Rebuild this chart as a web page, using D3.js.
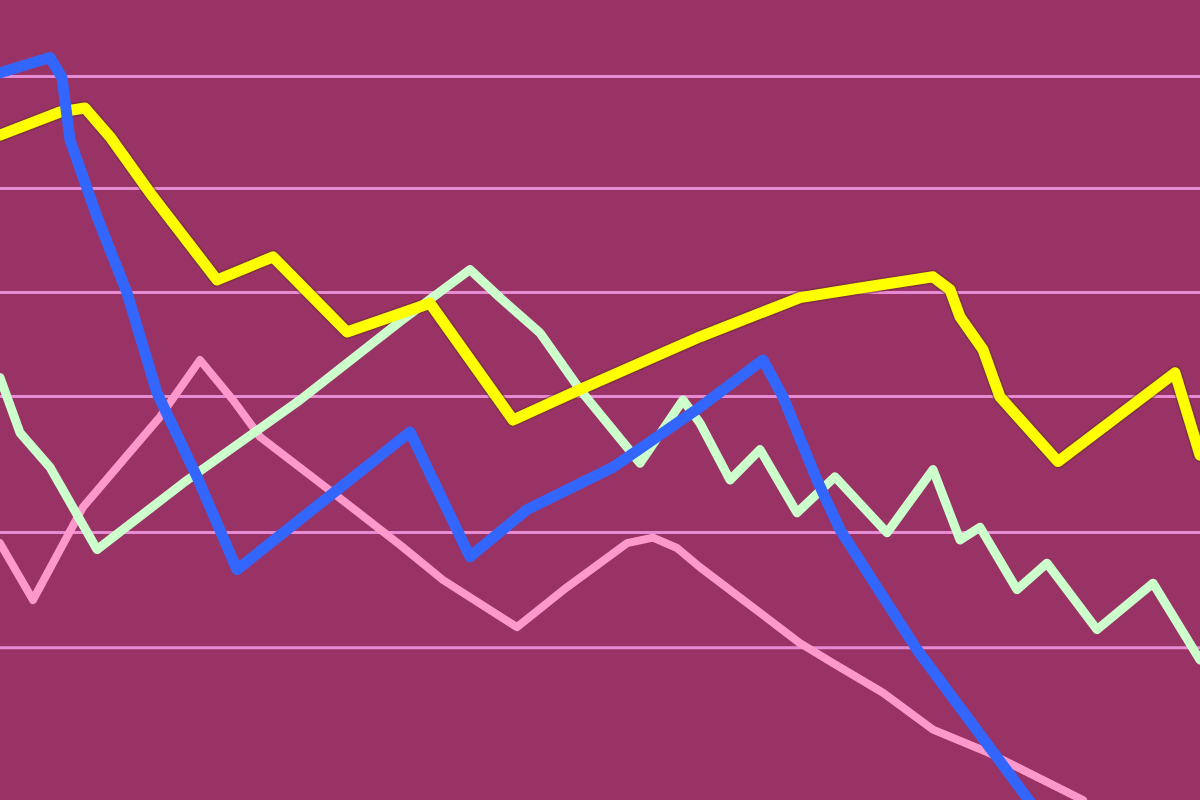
<!DOCTYPE html>
<html>
<head>
<meta charset="utf-8">
<script src="https://cdn.jsdelivr.net/npm/d3@7"></script>
<style>
  html, body { margin: 0; padding: 0; background: #993366; }
  svg { display: block; }
</style>
</head>
<body>
<svg id="chart" width="1200" height="800"></svg>
<script>
// Horizontal reference lines (value units)
const gridValues = [90.5, 76.5, 63.5, 50.5, 33.5, 19.1];

// Series: x positions and values
const blueX = [0, 5, 6.2, 7, 9.7, 12.7, 15.7, 19.7, 23.7, 41, 47, 52.7, 61.3, 70, 76.3, 78.3, 81.7, 84, 91.7, 104];
const blueY = [90.9, 92.8, 90.3, 82.5, 72.9, 63.4, 50.9, 40.4, 28.8, 46, 30.4, 36.3, 41.6, 49.1, 55, 50.4, 40, 33.8, 18.8, -1.9];

const yellowX = [0, 6, 8.5, 11, 15, 21.7, 27.3, 34.7, 43, 51.3, 58, 70, 80, 86, 93.3, 95, 96, 98.3, 99.3, 100, 105.8, 117.5, 120];
const yellowY = [83.1, 86, 86.5, 82.9, 75.9, 65, 67.9, 58.5, 62.1, 47.5, 51.3, 57.9, 62.8, 64, 65.4, 63.8, 60.4, 56.3, 52.8, 50.4, 42.3, 53.4, 43.1];

const greenX = [0, 2, 5, 9.7, 18.3, 30, 40, 47, 50, 54, 58, 62.7, 64, 68.3, 70, 73, 76, 79.7, 83.5, 88.7, 93.3, 96, 98, 101.7, 104.7, 109.7, 115.3, 120];
const greenY = [52.8, 45.9, 41.6, 31.3, 39.6, 50, 59.8, 66.3, 62.8, 58.4, 51.3, 44.1, 42.1, 50, 47.1, 40, 43.8, 35.9, 40.4, 33.4, 41.3, 32.5, 34.1, 26.3, 29.6, 21.3, 27.1, 17.5];

const pinkX = [0, 3.3, 8.3, 16, 20, 23.3, 26, 33.3, 40, 44.3, 51.7, 56.7, 62.7, 65.3, 67.7, 70, 80, 83.3, 88.3, 93.3, 98.7, 108.3];
const pinkY = [32.1, 25, 36.6, 47.9, 55, 50, 45.4, 38.4, 31.9, 27.5, 21.6, 26.6, 32.1, 32.8, 31.5, 29.1, 19.6, 17.1, 13.4, 8.8, 6, 0];

const W = 1200, H = 800;
const x = d3.scaleLinear().domain([0, 120]).range([0, W]);
const y = d3.scaleLinear().domain([0, 100]).range([H, 0]);

const svg = d3.select("#chart");
svg.append("rect").attr("width", W).attr("height", H).attr("fill", "#993366");

// gridlines through a y axis with full-width ticks
const grid = svg.append("g")
  .call(d3.axisLeft(y).tickValues(gridValues).tickSize(-W).tickFormat(""));
grid.select(".domain").remove();
grid.selectAll(".tick line").attr("stroke", "#e68ad2").attr("stroke-width", 3);

const series = [
  { name: "pink",   xs: pinkX,   ys: pinkY,   color: "#ff99cc", width: 8 },
  { name: "green",  xs: greenX,  ys: greenY,  color: "#ccffcc", width: 9 },
  { name: "yellow", xs: yellowX, ys: yellowY, color: "#ffff00", width: 11 },
  { name: "blue",   xs: blueX,   ys: blueY,   color: "#3366ff", width: 11 }
];

const line = d3.line()
  .x(d => x(d[0]))
  .y(d => y(d[1]))
  .curve(d3.curveLinear);

// dark halo for yellow to mimic the outline
svg.append("path")
  .datum(yellowX.map((v, i) => [v, yellowY[i]]))
  .attr("d", line)
  .attr("fill", "none")
  .attr("stroke", "#6a2a2a")
  .attr("stroke-opacity", 0.5)
  .attr("stroke-width", 14)
  .attr("stroke-linejoin", "round")
  .attr("stroke-linecap", "round");

series.forEach(s => {
  svg.append("path")
    .datum(s.xs.map((v, i) => [v, s.ys[i]]))
    .attr("class", "series " + s.name)
    .attr("d", line)
    .attr("fill", "none")
    .attr("stroke", s.color)
    .attr("stroke-width", s.width)
    .attr("stroke-linejoin", "round")
    .attr("stroke-linecap", "round");
});
</script>
</body>
</html>
